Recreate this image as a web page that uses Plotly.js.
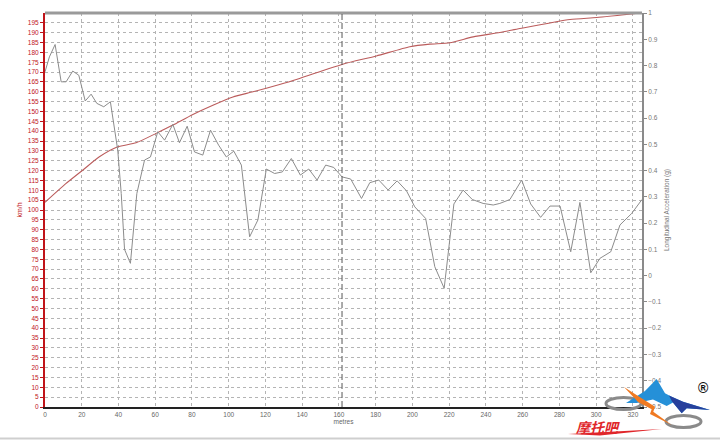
<!DOCTYPE html>
<html>
<head>
<meta charset="utf-8">
<script src="https://cdn.plot.ly/plotly-3.0.1.min.js"></script>
<style>html,body{margin:0;padding:0;background:#fff;}#chart{width:720px;height:440px;}</style>
</head>
<body>
<div id="chart"></div>
<script>
// ---- data ----
const speedDistance = [0, 11.5, 20.5, 29.6, 39.6, 49.6, 60.5, 69.6, 80.5, 91.4, 102.3, 113.2, 127.7, 138.6, 161.7, 180.4, 198.6, 209.5, 220.4, 233.1, 247.6, 258.5, 285.8, 300.3, 324];
const speedKmh = [103.9, 113.5, 120.2, 127.0, 132.1, 134.1, 138.9, 143.1, 148.5, 153.2, 157.4, 160.0, 163.7, 166.8, 173.9, 178.2, 182.9, 184.2, 184.9, 187.9, 190.1, 192.1, 196.7, 197.7, 200];

const accelDistance = [0, 2.4, 5.5, 8.8, 11.5, 15.1, 18.4, 21.9, 25.1, 28.2, 32.0, 35.6, 39.6, 41.5, 43.3, 46.5, 50.0, 54.2, 57.4, 61.4, 65.1, 69.6, 73.2, 77.4, 81.4, 85.9, 90.1, 94.5, 98.7, 102.8, 106.9, 111.4, 115.9, 120.5, 125.0, 129.2, 134.1, 139.0, 143.6, 148.1, 152.8, 157.2, 161.7, 166.4, 172.3, 176.8, 181.7, 186.8, 191.7, 196.8, 201.3, 207.2, 212.2, 217.3, 222.6, 227.6, 232.6, 238.5, 244.0, 247.6, 253.1, 259.5, 264.4, 269.8, 274.9, 280.4, 286.2, 291.2, 297.1, 302.1, 308.0, 313.0, 319.4, 325];
const accelG = [0.776, 0.833, 0.880, 0.738, 0.738, 0.779, 0.763, 0.665, 0.691, 0.656, 0.643, 0.662, 0.478, 0.313, 0.100, 0.047, 0.313, 0.440, 0.452, 0.548, 0.516, 0.576, 0.506, 0.569, 0.471, 0.459, 0.554, 0.497, 0.452, 0.474, 0.421, 0.148, 0.212, 0.406, 0.389, 0.395, 0.446, 0.383, 0.406, 0.364, 0.421, 0.412, 0.376, 0.368, 0.294, 0.354, 0.364, 0.326, 0.361, 0.323, 0.262, 0.218, 0.034, -0.048, 0.273, 0.326, 0.290, 0.275, 0.269, 0.275, 0.290, 0.364, 0.273, 0.222, 0.265, 0.265, 0.091, 0.279, 0.011, 0.066, 0.091, 0.193, 0.237, 0.290];

const cursorDistance = [161.7];

const xTickVals = [0, 20, 40, 60, 80, 100, 120, 140, 160, 180, 200, 220, 240, 260, 280, 300, 320];
const xTickText = ['0', '20', '40', '60', '80', '100', '120', '140', '160', '180', '200', '220', '240', '260', '280', '300', '320'];
const speedTickVals = [0, 5, 10, 15, 20, 25, 30, 35, 40, 45, 50, 55, 60, 65, 70, 75, 80, 85, 90, 95, 100, 105, 110, 115, 120, 125, 130, 135, 140, 145, 150, 155, 160, 165, 170, 175, 180, 185, 190, 195];

// ---- helpers for decoration (pixel -> paper) ----
const L = 45, R = 642, T = 13, B = 407;
const fx = p => (p - L) / (R - L);
const fy = p => (B - p) / (B - T);
const path = pts => 'M' + pts.map(p => fx(p[0]).toFixed(4) + ',' + fy(p[1]).toFixed(4)).join(' L') + ' Z';

const font = 'Liberation Sans, Arial, sans-serif';

const traces = [
  {
    x: accelDistance, y: accelG, yaxis: 'y2', type: 'scatter', mode: 'lines',
    line: {color: '#8c8c8c', width: 1}, hoverinfo: 'skip', showlegend: false
  },
  {
    x: speedDistance, y: speedKmh, yaxis: 'y', type: 'scatter', mode: 'lines',
    line: {color: '#bb5c5c', width: 1.1, shape: 'spline', smoothing: 0.6}, hoverinfo: 'skip', showlegend: false
  }
];

const shapes = [
  // top border
  {type: 'line', xref: 'paper', yref: 'paper', x0: 0, x1: 1, y0: 1, y1: 1, line: {color: '#9a9a9a', width: 3}},
  // cursor
  {type: 'line', xref: 'x', yref: 'paper', x0: cursorDistance[0], x1: cursorDistance[0], y0: 0, y1: 1, line: {color: '#555', width: 1, dash: '6px,3px'}},
  // bottom border of the image
  {type: 'line', xref: 'paper', yref: 'paper', x0: fx(0), x1: fx(720), y0: fy(438.5), y1: fy(438.5), line: {color: '#cfcfcf', width: 2}},
  // logo: gray rings
  {type: 'circle', xref: 'paper', yref: 'paper', x0: fx(606), x1: fx(641), y0: fy(397.5), y1: fy(409.5), line: {color: '#8a8a8a', width: 3}},
  {type: 'circle', xref: 'paper', yref: 'paper', x0: fx(666), x1: fx(701), y0: fy(415.5), y1: fy(427.5), line: {color: '#8a8a8a', width: 3}},
  // logo: blue wing
  {type: 'path', xref: 'paper', yref: 'paper', fillcolor: '#2590d8', line: {width: 0},
    path: path([[626, 403], [645, 391], [656.7, 379], [665, 393.3], [671.7, 396.7], [683, 401.7], [710, 410], [686.7, 408.3], [681.7, 413.3], [673, 402.5], [666.7, 406], [653, 399.5], [636.7, 403]])},
  {type: 'path', xref: 'paper', yref: 'paper', fillcolor: '#27409c', line: {width: 0},
    path: path([[669, 395.5], [683, 401.7], [710, 410], [686.7, 408.3], [681.7, 413.3], [672, 401.5]])},
  // logo: orange bolt
  {type: 'path', xref: 'paper', yref: 'paper', fillcolor: '#f07a22', line: {width: 0},
    path: path([[624, 387], [655, 406.7], [653.3, 411.7], [671.7, 425], [650, 414], [651.7, 409.3], [638, 402]])},
  // logo: red swoosh under text
  {type: 'path', xref: 'paper', yref: 'paper', fillcolor: '#e0262a', line: {width: 0},
    path: path([[568, 434], [662, 429], [600, 435.5]])}
];

const annotations = [
  {xref: 'paper', yref: 'paper', x: fx(598), y: fy(427), text: '<i><b>摩托吧</b></i>', showarrow: false,
    font: {family: 'Noto Sans CJK SC, sans-serif', size: 14, color: '#e0262a'}, xanchor: 'center', yanchor: 'middle'},
  {xref: 'paper', yref: 'paper', x: fx(703), y: fy(388), text: '<b>®</b>', showarrow: false,
    font: {family: font, size: 14, color: '#111'}, xanchor: 'center', yanchor: 'middle'}
];

const layout = {
  width: 720, height: 440,
  margin: {l: L, r: 720 - R, t: T, b: 440 - B},
  paper_bgcolor: '#fff', plot_bgcolor: '#fff',
  showlegend: false,
  xaxis: {
    range: [0, 325], tickvals: xTickVals, ticktext: xTickText,
    showgrid: true, gridcolor: '#b4b4b4', griddash: 'dot', gridwidth: 1,
    zeroline: false, showline: true, linecolor: '#222', linewidth: 2,
    ticks: '', tickfont: {family: font, size: 6.5, color: '#666'},
    title: {text: 'metres', font: {family: font, size: 6.5, color: '#666'}, standoff: 2}
  },
  yaxis: {
    range: [0, 200], tickvals: speedTickVals,
    showgrid: true, gridcolor: '#b4b4b4', griddash: 'dot', gridwidth: 1,
    zeroline: false, showline: true, linecolor: '#c0141a', linewidth: 2,
    ticks: 'outside', ticklen: 3, tickcolor: '#c0141a', tickwidth: 1,
    tickfont: {family: font, size: 6.5, color: '#c0141a'},
    title: {text: 'km/h', font: {family: font, size: 7, color: '#c0141a'}, standoff: 4}
  },
  yaxis2: {
    range: [-0.5, 1], dtick: 0.1, tick0: 0, overlaying: 'y', side: 'right',
    showgrid: false, zeroline: false, showline: true, linecolor: '#8a8a8a', linewidth: 2,
    ticks: 'outside', ticklen: 3, tickcolor: '#8a8a8a', tickwidth: 1,
    tickfont: {family: font, size: 6.5, color: '#777'},
    title: {text: 'Longitudinal Acceleration (g)', font: {family: font, size: 6.5, color: '#777'}, standoff: 4}
  },
  shapes: shapes,
  annotations: annotations
};

Plotly.newPlot('chart', traces, layout, {displayModeBar: false, staticPlot: true});
</script>
</body>
</html>
